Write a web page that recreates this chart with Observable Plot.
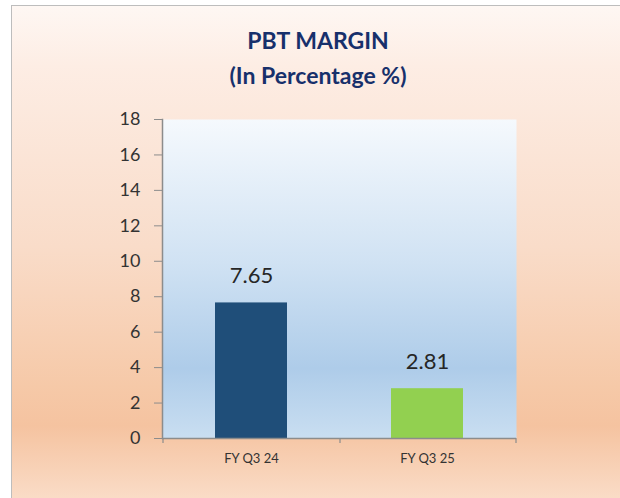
<!DOCTYPE html>
<html><head><meta charset="utf-8">
<script src="https://cdn.jsdelivr.net/npm/d3@7"></script>
<script src="https://cdn.jsdelivr.net/npm/@observablehq/plot@0.6"></script>
<style>
body{margin:0;background:#fff;}
#wrap{position:relative;width:620px;height:498px;overflow:hidden;font-family:Lato,"Open Sans",sans-serif;}
#bg{position:absolute;left:11px;top:5px;width:640px;height:520px;border-left:1.5px solid #BDBDBD;border-top:1.5px solid #BDBDBD;
 background:linear-gradient(to bottom,#FEF7F3 0px,#FDEDE4 60px,#F9DCC9 240px,#F6C9A8 380px,#F5C3A0 420px,#FADCC7 493px,#FBE0CD 520px);}
#title{position:absolute;left:0;top:23px;width:636px;text-align:center;font-weight:bold;font-size:23px;line-height:35px;color:#17306B;}
#chart{position:absolute;left:0;top:95px;}
</style></head>
<body>
<div id="wrap">
 <div id="bg"></div>
 <div id="title">PBT MARGIN<br>(In Percentage %)</div>
 <div id="chart"></div>
</div>
<script>
const categories = ["FY Q3 24", "FY Q3 25"];
const values = [7.65, 2.81];
const barColors = ["#1F4E79", "#92D050"];
const yTicks = [0, 2, 4, 6, 8, 10, 12, 14, 16, 18];

const data = categories.map((c, i) => ({cat: c, value: values[i], color: barColors[i]}));

const plot = Plot.plot({
  width: 620, height: 403,
  marginTop: 24, marginBottom: 60, marginLeft: 162, marginRight: 104,
  style: {background: "transparent", fontFamily: "Lato, 'Open Sans', sans-serif", overflow: "visible"},
  x: {domain: categories, paddingInner: 0.593, paddingOuter: 0.2966},
  y: {domain: [0, 18]},
  color: {type: "identity"},
  marks: [
    Plot.frame({fill: "url(#plotGrad)", stroke: "none"}),
    Plot.barY(data, {x: "cat", y: "value", fill: "color"}),
    Plot.text(data, {x: "cat", y: "value", text: d => d.value.toFixed(2), lineAnchor: "bottom", dy: -20, fontSize: 22, fill: "#262626"}),
    Plot.axisY({ticks: yTicks, tickSize: 8, tickPadding: 14, fontSize: 18, stroke: "#8C8C8C", fill: "#333333", label: null}),
    Plot.axisX({tickSize: 0, tickPadding: 15, fontSize: 13, fill: "#333333", label: null}),
    Plot.frame({anchor: "left", stroke: "#8C8C8C", strokeWidth: 1.5}),
    Plot.ruleY([0], {stroke: "#8C8C8C", strokeWidth: 1.5}),
    Plot.ruleX(categories, {x: d => d, dx: 88.5, y1: 0, y2: 0, insetBottom: -5, stroke: "#8C8C8C", strokeWidth: 1.2}),
    Plot.ruleX([categories[0]], {x: d => d, dx: -88.5, y1: 0, y2: 0, insetBottom: -5, stroke: "#8C8C8C", strokeWidth: 1.2})
  ]
});

d3.select(plot).insert("defs", ":first-child").html(
  '<linearGradient id="plotGrad" x1="0" y1="0" x2="0" y2="1">' +
  '<stop offset="0" stop-color="#F5F9FD"/>' +
  '<stop offset="0.45" stop-color="#D0E2F3"/>' +
  '<stop offset="0.78" stop-color="#AECCE9"/>' +
  '<stop offset="1" stop-color="#C9DEF1"/>' +
  '</linearGradient>'
);

document.getElementById("chart").appendChild(plot);
</script>
</body></html>
